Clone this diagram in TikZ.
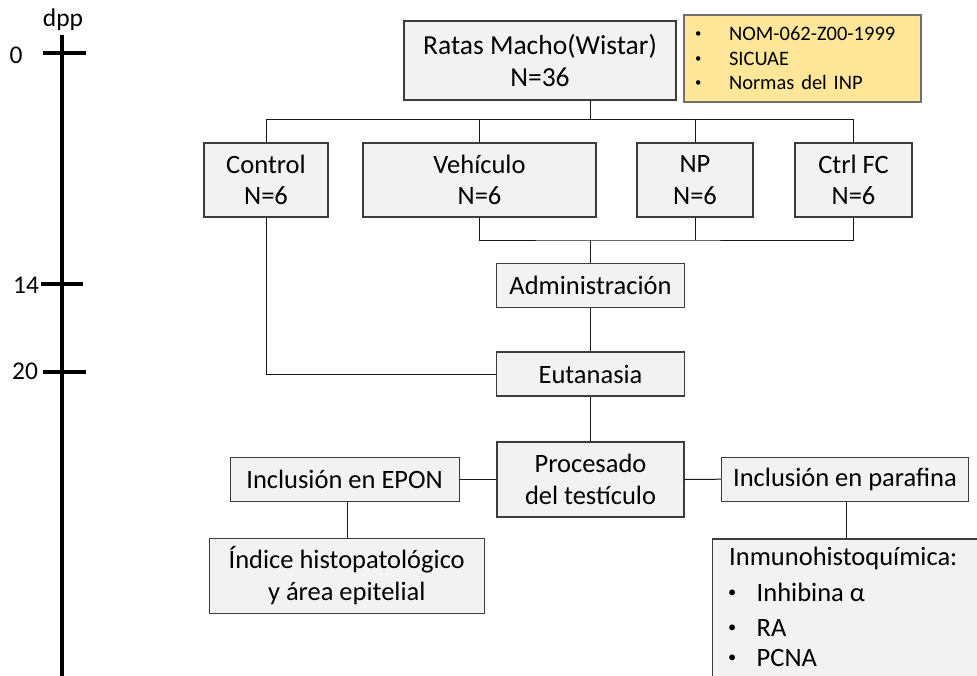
\documentclass[tikz,border=0pt]{standalone}
\usepackage{fontspec}
\setmainfont{Carlito}
\definecolor{boxfill}{HTML}{F2F2F2}
\definecolor{boxline}{HTML}{3C3C3C}
\definecolor{noteFill}{HTML}{FFE699}
\definecolor{noteLine}{HTML}{707070}
\newcommand{\bul}{\raisebox{0.15em}{\scalebox{0.62}{•}}}
\begin{document}
\begin{tikzpicture}[x=1pt,y=-1pt,
  box/.style={draw=boxline, fill=boxfill, line width=1.2pt, inner sep=0pt, align=center,
    font=\fontsize{26.5}{31.7}\selectfont},
  notebox/.style={draw=noteLine, fill=noteFill, line width=1.2pt, inner ysep=0pt, inner xsep=11pt,
    align=left, text width=215pt, font=\fontsize{20.5}{24.4}\selectfont},
  txt/.style={inner sep=0pt, font=\fontsize{26.5}{31.7}\selectfont},
  axlab/.style={inner sep=0pt, font=\fontsize{25.5}{28}\selectfont},
  conn/.style={draw=black!90, line width=1pt},
  axis/.style={draw=black, line width=4pt},
]
\useasboundingbox (0,0) rectangle (977,675);
\begin{scope}
\clip (0,0) rectangle (977,675);

% timeline
\coordinate (tTop) at (61.7,35);
\coordinate (tBot) at (61.7,676);
\draw[axis] (tTop) -- (tBot);
\coordinate (k0a) at (42.7,53.3);  \coordinate (k0b) at (86,53.3);
\coordinate (k14a) at (40.7,284.3); \coordinate (k14b) at (83.3,284.3);
\coordinate (k20a) at (42.7,371.7); \coordinate (k20b) at (86,371.7);
\draw[axis] (k0a) -- (k0b);
\draw[axis] (k14a) -- (k14b);
\draw[axis] (k20a) -- (k20b);
\node[axlab] (dpp) at (63,20) {dpp};
\node[axlab] (l0) at (16,55) {0};
\node[axlab] (l14) at (26,285) {14};
\node[axlab] (l20) at (25,371) {20};

% boxes
\node[box, minimum width=272pt, minimum height=79pt, font=\fontsize{27.5}{32}\selectfont]
  (top) at (540,60.5) {Ratas Macho(Wistar)\\N=36};
\node[notebox, minimum height=87pt] (note) at (802.5,58.5)
  {\makebox[34pt][l]{\bul}NOM-062-Z00-1999\\\makebox[34pt][l]{\bul}SICUAE\\\makebox[34pt][l]{\bul}Normas del INP};

\node[box, minimum width=124pt, minimum height=74pt] (control) at (266,180) {Control\\N=6};
\node[box, minimum width=233pt, minimum height=74pt] (vehic) at (479.5,180) {Vehículo\\N=6};
\node[box, minimum width=116pt, minimum height=74pt] (np) at (695,180) {NP\\N=6};
\node[box, minimum width=117pt, minimum height=74pt] (ctrlfc) at (853.5,180) {Ctrl FC\\N=6};

\node[box, minimum width=188pt, minimum height=44pt] (admin) at (590.5,285.3) {Administración};
\node[box, minimum width=188pt, minimum height=44pt] (euta) at (590.5,374) {Eutanasia};
\node[box, minimum width=187pt, minimum height=75pt] (proc) at (590.5,479.5) {Procesado\\del testículo};

\node[box, minimum width=229pt, minimum height=44.5pt] (epon) at (344.6,479.5) {Inclusión en EPON};
\node[box, minimum width=275pt, minimum height=75pt] (indice) at (346.7,575.8) {Índice histopatológico\\y área epitelial};
\node[box, minimum width=246.5pt, minimum height=44pt] (paraf) at (845,479.2) {Inclusión en parafina};
\node[box, anchor=north west, minimum width=290pt, minimum height=170pt] (inmuno) at (712,538.3) {};

\node[txt, anchor=base west] (i1) at (729,565.5) {Inmunohistoquímica:};
\node[txt, anchor=base west] (i2) at (728,601.5) {\makebox[28.5pt][l]{\bul}Inhibina α};
\node[txt, anchor=base west] (i3) at (728,636.5) {\makebox[28.5pt][l]{\bul}RA};
\node[txt, anchor=base west] (i4) at (728,666.5) {\makebox[28.5pt][l]{\bul}PCNA};

% connectors
\coordinate (topOut) at (590.5,100);
\coordinate (busTop) at (590.5,119.5);
\coordinate (busBot) at (590.5,240);
\coordinate (eponDrop) at (347,0);
\coordinate (parafDrop) at (846.7,0);
\draw[conn] (topOut) -- (busTop);
\draw[conn] (control.north) |- (busTop) -| (ctrlfc.north);
\draw[conn] (vehic.north) -- (vehic.north |- busTop);
\draw[conn] (np.north) -- (np.north |- busTop);
\draw[conn] (vehic.south) |- (busBot) -| (ctrlfc.south);
\draw[conn] (np.south) -- (np.south |- busBot);
\draw[conn] (busBot) -- (admin.north);
\draw[conn] (admin.south) -- (euta.north);
\draw[conn] (control.south) |- (euta.west);
\draw[conn] (euta.south) -- (proc.north);
\draw[conn] (proc.west) -- (epon.east);
\draw[conn] (proc.east) -- (paraf.west);
\draw[conn] (epon.south -| eponDrop) -- (indice.north -| eponDrop);
\draw[conn] (paraf.south -| parafDrop) -- (inmuno.north -| parafDrop);
\end{scope}
\end{tikzpicture}
\end{document}
